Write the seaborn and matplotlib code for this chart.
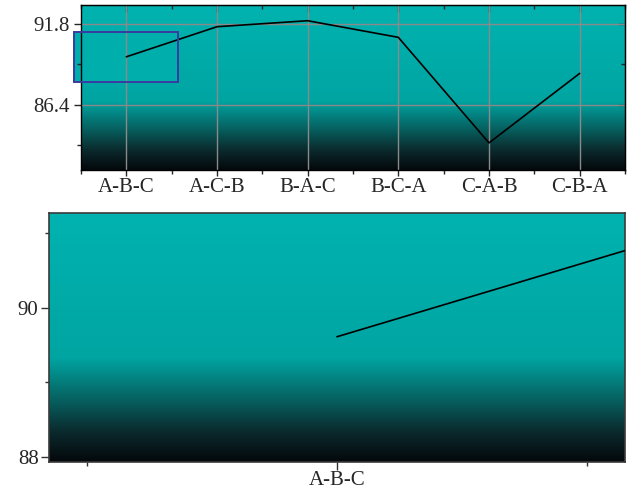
import matplotlib
matplotlib.use("Agg")
import matplotlib.pyplot as plt
import seaborn as sns
import pandas as pd
import numpy as np
from matplotlib.colors import LinearSegmentedColormap
from matplotlib.patches import Rectangle
from matplotlib.ticker import FixedLocator, NullFormatter

# Data
orders = ["A-B-C", "A-C-B", "B-A-C", "B-C-A", "C-A-B", "C-B-A"]
accuracy = [89.61, 91.62, 92.02, 90.91, 83.86, 88.50]
top_major = [86.4, 91.8]
top_minor = [83.7, 89.1]
zoom_major = [88, 90]
zoom_minor = [89, 91]

df = pd.DataFrame({"order": orders, "acc": accuracy})

sns.set_style("ticks")
plt.rcParams["font.family"] = ["Liberation Serif", "DejaVu Serif"]
plt.rcParams["font.size"] = 15

# teal -> black background gradient
grad = LinearSegmentedColormap.from_list(
    "tealfade",
    [(0.0, "#04080b"), (0.12, "#0b2a2d"), (0.26, "#066564"),
     (0.42, "#00a5a2"), (1.0, "#00b3b0")])
ramp = np.linspace(0, 1, 256).reshape(-1, 1)

fig = plt.figure(figsize=(6.29, 4.91), dpi=100)
ax_top = fig.add_axes([0.1288, 0.6538, 0.8648, 0.3360])
ax_zoom = fig.add_axes([0.0779, 0.0591, 0.9157, 0.5071])

def add_gradient(ax):
    ax.imshow(ramp, cmap=grad, origin="lower", aspect="auto",
              extent=[0, 1, 0, 1], transform=ax.transAxes, zorder=0)

# Top: full view
add_gradient(ax_top)
sns.lineplot(data=df, x="order", y="acc", sort=False, color="black",
             linewidth=1.2, ax=ax_top, zorder=3)
ax_top.set_xlim(-0.5, 5.5)
ax_top.set_ylim(82.05, 93.07)
ax_top.set_xlabel("")
ax_top.set_ylabel("")
ax_top.set_xticks(range(len(orders)))
ax_top.set_xticklabels(orders)
ax_top.xaxis.set_minor_locator(FixedLocator(np.arange(-0.5, 6, 1)))
ax_top.set_yticks(top_major)
ax_top.set_yticklabels([f"{v:.1f}" for v in top_major])
ax_top.yaxis.set_minor_locator(FixedLocator(top_minor))
ax_top.grid(True, which="major", color="#8a8a8a", linewidth=1.0, zorder=1)
ax_top.set_axisbelow(False)
ax_top.tick_params(axis="x", which="major", direction="out", length=4,
                   width=1, pad=2)
ax_top.tick_params(axis="x", which="minor", direction="out", length=3, width=1)
ax_top.tick_params(axis="y", which="major", direction="out", length=5,
                   width=1, pad=3)
ax_top.tick_params(axis="y", which="minor", direction="out", length=3, width=1)

# inward ticks on the top and right edges
sec_x = ax_top.secondary_xaxis("top")
sec_x.set_xticks(range(len(orders)))
sec_x.xaxis.set_minor_locator(FixedLocator(np.arange(-0.5, 6, 1)))
sec_x.tick_params(which="both", direction="in", labeltop=False)
sec_x.tick_params(which="major", length=5, width=1)
sec_x.tick_params(which="minor", length=3, width=1)
sec_y = ax_top.secondary_yaxis("right")
sec_y.set_yticks(top_major)
sec_y.yaxis.set_minor_locator(FixedLocator(top_minor))
sec_y.tick_params(which="both", direction="in", labelright=False)
sec_y.tick_params(which="major", length=5, width=1)
sec_y.tick_params(which="minor", length=3, width=1)
for s in ax_top.spines.values():
    s.set_color("black")
    s.set_linewidth(1.0)
    s.set_zorder(4)

# zoom region marker
ax_top.add_patch(Rectangle((-0.575, 87.94), 1.15, 3.34, facecolor="#00afac",
                           edgecolor="none", clip_on=False, zorder=0.5))
ax_top.add_patch(Rectangle((-0.575, 87.94), 1.15, 3.34, facecolor="none",
                           edgecolor="#3a3aa0", linewidth=1.4,
                           clip_on=False, zorder=5))

# Bottom: zoomed view of A-B-C
add_gradient(ax_zoom)
sns.lineplot(data=df, x="order", y="acc", sort=False, color="black",
             linewidth=1.2, ax=ax_zoom, zorder=3)
ax_zoom.set_xlim(-0.575, 0.575)
ax_zoom.set_ylim(87.93, 91.27)
ax_zoom.set_xlabel("")
ax_zoom.set_ylabel("")
ax_zoom.set_xticks([0])
ax_zoom.set_xticklabels([orders[0]])
ax_zoom.xaxis.set_minor_locator(FixedLocator([-0.5, 0.5]))
ax_zoom.xaxis.set_minor_formatter(NullFormatter())
ax_zoom.set_yticks(zoom_major)
ax_zoom.set_yticklabels([str(v) for v in zoom_major])
ax_zoom.yaxis.set_minor_locator(FixedLocator(zoom_minor))
ax_zoom.grid(False)
ax_zoom.tick_params(which="major", direction="out", length=5.5, width=1, pad=2,
                    color="#333333")
ax_zoom.tick_params(axis="x", which="major", pad=1)
ax_zoom.tick_params(which="minor", direction="out", length=3, width=1,
                    color="#333333")
for s in ax_zoom.spines.values():
    s.set_color("#3a3a3a")
    s.set_linewidth(1.2)

fig.savefig("out.png", dpi=100)
